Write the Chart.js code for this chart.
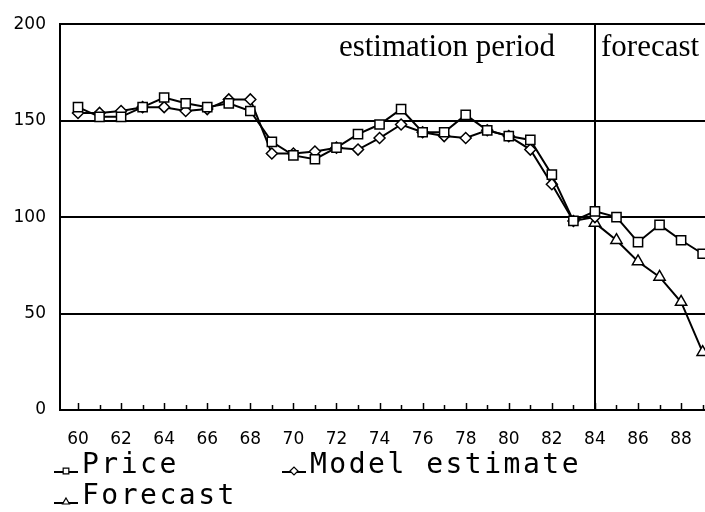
<!DOCTYPE html>
<html>
<head>
<meta charset="utf-8">
<script src="https://cdn.jsdelivr.net/npm/chart.js@4/dist/chart.umd.min.js"></script>
<style>
  html, body { margin: 0; padding: 0; background: #fff; }
  /* Chart.js keeps ~8px spare on the right, the original runs to the edge,
     so the canvas is a little wider than the visible frame */
  #frame { width: 705px; height: 512px; overflow: hidden; }
  #chart { display: block; }
</style>
</head>
<body>
<div id="frame"><canvas id="chart" width="713" height="512"></canvas></div>
<script>
// Price / model estimate / forecast, years 1960-1989

const years = [60, 61, 62, 63, 64, 65, 66, 67, 68, 69, 70, 71, 72, 73, 74,
               75, 76, 77, 78, 79, 80, 81, 82, 83, 84, 85, 86, 87, 88, 89];
const priceValues = [157, 152, 152, 157, 162, 159, 157, 159, 155, 139, 132, 130, 136, 143, 148,
                     156, 144, 144, 153, 145, 142, 140, 122, 98, 103, 100, 87, 96, 88, 81];

const modelYears = [60, 61, 62, 63, 64, 65, 66, 67, 68, 69, 70, 71, 72, 73, 74,
                    75, 76, 77, 78, 79, 80, 81, 82, 83, 84];
const modelValues = [154, 154, 155, 157, 157, 155, 156, 161, 161, 133, 133, 134, 136, 135, 141,
                     148, 144, 142, 141, 145, 142, 135, 117, 98, 100];

const forecastYears = [84, 85, 86, 87, 88, 89];
const forecastValues = [97, 88, 77, 69, 56, 30];

const xTickLabels = [60, 62, 64, 66, 68, 70, 72, 74, 76, 78, 80, 82, 84, 86, 88];
const yTickLabels = [0, 50, 100, 150, 200];

const SPLIT_YEAR = 84;
const INK = '#000';
const tickFont = { family: 'DejaVu Sans', size: 17 };

function pairs(xs, ys) {
  return xs.map((x, i) => ({ x, y: ys[i] }));
}

// legend slots (pixel layout only)
const legendSlots = [
  { x: 54, y: 466 },
  { x: 282, y: 466 },
  { x: 54, y: 497 },
];

// ─── extra drawing: split line, inward ticks, captions, legend ───────────

const decor = {
  id: 'decor',
  beforeDatasetsDraw(chart) {
    const { ctx, chartArea: a, scales: { x } } = chart;
    ctx.save();
    ctx.strokeStyle = INK;

    // vertical split between estimation and forecast
    const sx = Math.round(x.getPixelForValue(SPLIT_YEAR));
    ctx.lineWidth = 2;
    ctx.beginPath();
    ctx.moveTo(sx, a.top);
    ctx.lineTo(sx, a.bottom);
    ctx.stroke();

    // small inward ticks, one per year
    ctx.lineWidth = 1.5;
    years.forEach(yr => {
      const px = Math.round(x.getPixelForValue(yr)) + 0.5;
      ctx.beginPath();
      ctx.moveTo(px, a.bottom);
      ctx.lineTo(px, a.bottom - (yr % 2 === 0 ? 7 : 5));
      ctx.stroke();
    });

    // captions
    ctx.fillStyle = INK;
    ctx.font = '31px "Liberation Serif"';
    ctx.textBaseline = 'alphabetic';
    ctx.textAlign = 'right';
    ctx.fillText('estimation period', sx - 40, a.top + 32);
    ctx.textAlign = 'left';
    ctx.fillText('forecast', sx + 6, a.top + 32);
    ctx.restore();
  },
  afterDraw(chart) {
    const { ctx } = chart;
    ctx.save();
    chart.data.datasets.forEach((ds, i) => {
      const slot = legendSlots[i];
      const ly = slot.y + 6;
      ctx.strokeStyle = INK;
      ctx.lineWidth = 2;
      ctx.beginPath();
      ctx.moveTo(slot.x, ly);
      ctx.lineTo(slot.x + 24, ly);
      ctx.stroke();
      ctx.fillStyle = '#fff';
      ctx.lineWidth = 1.2;
      Chart.helpers.drawPoint(ctx,
        { pointStyle: ds.pointStyle, radius: 4, rotation: 0, borderWidth: 1.2 },
        slot.x + 12, ly - 1);
      ctx.fillStyle = INK;
      ctx.font = '28px "DejaVu Sans Mono"';
      ctx.letterSpacing = '2.5px';
      ctx.textAlign = 'left';
      ctx.textBaseline = 'middle';
      ctx.fillText(ds.label, slot.x + 28, slot.y);
    });
    ctx.restore();
  }
};

const lineStyle = {
  borderColor: INK,
  borderWidth: 2,
  pointBorderColor: INK,
  pointBackgroundColor: '#fff',
  pointBorderWidth: 1.5,
  tension: 0,
  fill: false,
};

new Chart(document.getElementById('chart'), {
  type: 'line',
  data: {
    datasets: [
      { ...lineStyle, label: 'Price', data: pairs(years, priceValues),
        pointStyle: 'rect', pointRadius: 6.5 },
      { ...lineStyle, label: 'Model estimate', data: pairs(modelYears, modelValues),
        pointStyle: 'rectRot', pointRadius: 5.5 },
      { ...lineStyle, label: 'Forecast', data: pairs(forecastYears, forecastValues),
        pointStyle: 'triangle', pointRadius: 6.5 },
    ]
  },
  options: {
    responsive: false,
    devicePixelRatio: 1,
    animation: false,
    layout: { padding: { top: 19, left: 0, right: 0, bottom: 0 } },
    plugins: { legend: { display: false }, tooltip: { enabled: false } },
    scales: {
      x: {
        type: 'linear',
        min: 59.164,
        max: 89.11,
        afterBuildTicks: s => { s.ticks = xTickLabels.map(v => ({ value: v })); },
        afterFit: s => { s.height = 102; },
        // invisible tick marks push the labels down instead of label padding
        grid: { display: true, drawOnChartArea: false, drawTicks: true,
                tickLength: 19, tickColor: 'rgba(0,0,0,0)' },
        border: { display: true, color: INK, width: 2 },
        ticks: { color: INK, font: tickFont, padding: 0, maxRotation: 0, autoSkip: false }
      },
      y: {
        min: 0,
        max: 200,
        afterBuildTicks: s => { s.ticks = yTickLabels.map(v => ({ value: v })); },
        afterFit: s => { s.width = 60; },
        grid: { color: INK, lineWidth: 2, tickLength: 0 },
        border: { display: true, color: INK, width: 2 },
        ticks: { color: INK, font: tickFont, padding: 14 }
      }
    }
  },
  plugins: [decor]
});
</script>
</body>
</html>
